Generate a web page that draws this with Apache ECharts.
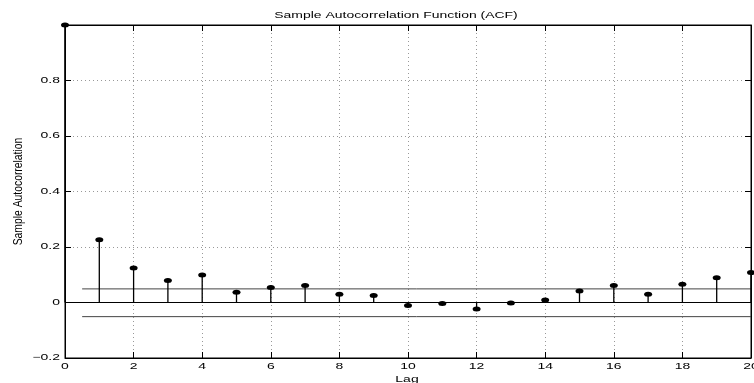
<!DOCTYPE html>
<html>
<head>
<meta charset="utf-8">
<script src="https://cdn.jsdelivr.net/npm/echarts@6/dist/echarts.min.js"></script>
<style>
  html, body { margin: 0; padding: 0; background: #fff; }
  #main { width: 754px; height: 383px; }
</style>
</head>
<body>
<div id="main"></div>
<script>
// lags and sample autocorrelation
let lags = [0, 1, 2, 3, 4, 5, 6, 7, 8, 9, 10, 11, 12, 13, 14, 15, 16, 17, 18, 19, 20];
let acfValues = [1, 0.226, 0.124, 0.079, 0.099, 0.037, 0.054, 0.061, 0.030, 0.025, -0.011,
  -0.004, -0.023, -0.002, 0.009, 0.041, 0.061, 0.030, 0.066, 0.089, 0.108];
let boundLag = [0.5, 20];
let upperBound = 0.049;
let lowerBound = -0.051;
let xTicks = [0, 2, 4, 6, 8, 10, 12, 14, 16, 18, 20];
let yTicks = [-0.2, 0, 0.2, 0.4, 0.6, 0.8, 1];
let yTickLabels = ['\u22120.2', '0', '0.2', '0.4', '0.6', '0.8', ''];

let fontFam = 'Liberation Sans, Arial, sans-serif';
let stretch = 1.55; // the source image is stretched sideways

function txt(text, x, y, align, extra) {
  let el = {
    type: 'text', x: x, y: y, scaleX: stretch, silent: true,
    style: { text: text, font: '9px ' + fontFam, fill: '#000', align: align, verticalAlign: 'middle' }
  };
  return Object.assign(el, extra || {});
}

function createChart() {
  let myChart = echarts.init(document.getElementById('main'));
  let points = lags.map(function (l, i) { return [l, acfValues[i]]; });
  let option = {
    animation: false,
    backgroundColor: '#fff',
    grid: {
      left: 65, right: 3, top: 25, bottom: 25,
      outerBoundsMode: 'none',
      show: true, borderColor: '#000', borderWidth: 1
    },
    xAxis: [
      {
        type: 'value',
        min: xTicks[0],
        max: xTicks[xTicks.length - 1],
        interval: 2,
        axisLine: { onZero: false, lineStyle: { color: '#000', width: 1 } },
        axisTick: { inside: true, length: 6, lineStyle: { color: '#000' } },
        axisLabel: { show: false },
        splitLine: { show: true, lineStyle: { color: '#999', type: [1, 3], width: 1 } }
      },
      {
        type: 'value',
        position: 'top',
        min: xTicks[0],
        max: xTicks[xTicks.length - 1],
        interval: 2,
        axisLine: { onZero: false, lineStyle: { color: '#000', width: 1 } },
        axisTick: { inside: true, length: 6, lineStyle: { color: '#000' } },
        axisLabel: { show: false },
        splitLine: { show: false }
      }
    ],
    yAxis: [
      {
        type: 'value',
        min: yTicks[0],
        max: yTicks[yTicks.length - 1],
        interval: 0.2,
        axisLine: { onZero: false, lineStyle: { color: '#000', width: 1 } },
        axisTick: { inside: true, length: 6, lineStyle: { color: '#000' } },
        axisLabel: { show: false },
        splitLine: { show: true, lineStyle: { color: '#999', type: [1, 3], width: 1 } }
      },
      {
        type: 'value',
        position: 'right',
        min: yTicks[0],
        max: yTicks[yTicks.length - 1],
        interval: 0.2,
        axisLine: { show: true, onZero: false, lineStyle: { color: '#000', width: 1 } },
        axisTick: { show: true, inside: true, length: 6, lineStyle: { color: '#000' } },
        axisLabel: { show: false },
        splitLine: { show: false }
      }
    ],
    series: [
      {
        // zero line
        type: 'line',
        data: [[lags[0], 0], [lags[lags.length - 1], 0]],
        symbol: 'none',
        lineStyle: { color: '#000', width: 1 },
        z: 2
      },
      {
        type: 'line',
        data: [[boundLag[0], upperBound], [boundLag[1], upperBound]],
        symbol: 'none',
        lineStyle: { color: '#444', width: 1 },
        z: 2
      },
      {
        type: 'line',
        data: [[boundLag[0], lowerBound], [boundLag[1], lowerBound]],
        symbol: 'none',
        lineStyle: { color: '#444', width: 1 },
        z: 2
      },
      {
        // stems
        type: 'custom',
        data: points,
        renderItem: function (params, api) {
          let top = api.coord([api.value(0), api.value(1)]);
          let base = api.coord([api.value(0), 0]);
          return {
            type: 'line',
            shape: { x1: top[0], y1: top[1], x2: base[0], y2: base[1] },
            style: { stroke: '#000', lineWidth: 1.3 }
          };
        },
        z: 3
      },
      {
        type: 'scatter',
        data: points,
        symbol: 'circle',
        symbolSize: [8, 5],
        itemStyle: { color: '#000', opacity: 1 },
        z: 4
      }
    ]
  };
  myChart.setOption(option);

  // tick labels and titles, placed with the axes' own scales
  let graphics = [];
  let x0 = myChart.convertToPixel({ xAxisIndex: 0 }, xTicks[0]);
  let x1 = myChart.convertToPixel({ xAxisIndex: 0 }, xTicks[xTicks.length - 1]);
  let yBottom = myChart.convertToPixel({ yAxisIndex: 0 }, yTicks[0]);
  let yTop = myChart.convertToPixel({ yAxisIndex: 0 }, yTicks[yTicks.length - 1]);
  xTicks.forEach(function (v) {
    graphics.push(txt(String(v), myChart.convertToPixel({ xAxisIndex: 0 }, v), yBottom + 8.5, 'center'));
  });
  yTicks.forEach(function (v, i) {
    graphics.push(txt(yTickLabels[i], x0 - 5, myChart.convertToPixel({ yAxisIndex: 0 }, v), 'right'));
  });
  graphics.push(txt('Sample Autocorrelation Function (ACF)', (x0 + x1) / 2 - 12, yTop - 9.5, 'center'));
  graphics.push(txt('Lag', (x0 + x1) / 2 - 1, yBottom + 22, 'center'));
  graphics.push(txt('Sample Autocorrelation', 18, (yTop + yBottom) / 2, 'center',
    { rotation: Math.PI / 2, scaleX: 1.15, scaleY: 1.5 }));
  myChart.setOption({ graphic: graphics });
}

createChart();
</script>
</body>
</html>
